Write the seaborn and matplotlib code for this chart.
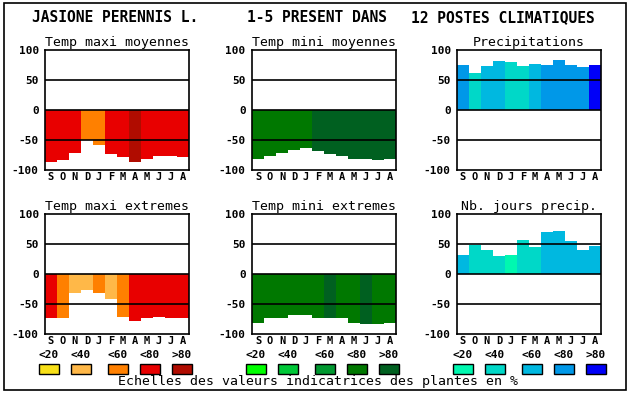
import matplotlib
matplotlib.use("Agg")
import matplotlib.pyplot as plt
import seaborn as sns
import pandas as pd
from matplotlib.patches import Rectangle

W, H = 630, 394

months = list("SONDJFMAMJJA")
band_labels = ["<20", "<40", "<60", "<80", ">80"]

reds = ["#f8e018", "#ffb848", "#ff8000", "#e80000", "#b00c00"]
greens = ["#00ff00", "#00c838", "#009830", "#007800", "#006020"]
blues = ["#00f8b0", "#00d8c8", "#00b8e0", "#0098e8", "#0000f8"]

# percentages (temperatures drawn downwards)
maxi_moy = [86, 83, 71, 50, 58, 73, 78, 86, 81, 77, 77, 78]
maxi_moy_cls = [3, 3, 3, 2, 2, 3, 3, 4, 3, 3, 3, 3]
mini_moy = [81, 77, 71, 66, 64, 68, 73, 77, 81, 81, 83, 81]
mini_moy_cls = [3, 3, 3, 3, 3, 4, 4, 4, 4, 4, 4, 4]
precip = [75, 62, 73, 82, 80, 73, 77, 75, 83, 75, 72, 75]
precip_cls = [3, 1, 2, 2, 1, 1, 2, 3, 3, 3, 3, 4]
maxi_ext = [74, 74, 32, 26, 32, 42, 71, 78, 74, 72, 74, 73]
maxi_ext_cls = [3, 2, 1, 1, 2, 1, 2, 3, 3, 3, 3, 3]
mini_ext = [81, 74, 74, 68, 68, 74, 73, 74, 81, 83, 83, 81]
mini_ext_cls = [3, 3, 3, 3, 3, 3, 4, 3, 3, 4, 3, 3]
jours = [32, 49, 40, 30, 32, 57, 45, 70, 72, 55, 40, 47]
jours_cls = [2, 1, 1, 1, 0, 1, 1, 2, 2, 2, 2, 2]

panels = [
    ("Temp maxi moyennes", maxi_moy, maxi_moy_cls, reds, -1, 0, 0),
    ("Temp mini moyennes", mini_moy, mini_moy_cls, greens, -1, 0, 1),
    ("Precipitations", precip, precip_cls, blues, 1, 0, 2),
    ("Temp maxi extremes", maxi_ext, maxi_ext_cls, reds, -1, 1, 0),
    ("Temp mini extremes", mini_ext, mini_ext_cls, greens, -1, 1, 1),
    ("Nb. jours precip.", jours, jours_cls, blues, 1, 1, 2),
]

sns.set_theme(style="white")
plt.rcParams["font.family"] = ["DejaVu Sans Mono", "DejaVu Sans"]

fig = plt.figure(figsize=(W / 100, H / 100), dpi=100)
fig.patch.set_facecolor("white")

col_x = [45, 252, 457]
row_y = [50, 214]
aw, ah = 144, 120


def px_axes(x, y, w, h):
    return fig.add_axes([x / W, 1 - (y + h) / H, w / W, h / H])


for title, vals, cls, pal, sign, r, c in panels:
    ax = px_axes(col_x[c], row_y[r], aw, ah)
    df = pd.DataFrame({"pos": range(12), "val": [sign * v for v in vals]})
    sns.barplot(data=df, x="pos", y="val", hue="pos",
                palette=[pal[k] for k in cls], legend=False,
                width=1, saturation=1, linewidth=0, ax=ax)
    for yl in (50, 0, -50):
        ax.axhline(yl, color="black", lw=1.2, zorder=3)
    ax.set_xlim(-0.5, 11.5)
    ax.set_ylim(-100, 100)
    ax.set_yticks([100, 50, 0, -50, -100])
    ax.set_yticklabels(["100", "50", "0", "-50", "-100"],
                       fontsize=8, fontweight="bold")
    ax.set_xticks(range(12))
    ax.set_xticklabels(months, fontsize=7.5, fontweight="bold")
    ax.tick_params(axis="y", length=0, pad=4.5, colors="black")
    ax.tick_params(axis="x", length=0, pad=1.5, colors="black")
    ax.set_xlabel("")
    ax.set_ylabel("")
    ax.set_facecolor("white")
    for s in ax.spines.values():
        s.set_color("black")
        s.set_linewidth(1.2)
        s.set_visible(True)
    ax.set_title(title, fontsize=9.5, color="black", pad=3)

# main title
for txt, x in [("JASIONE PERENNIS L.", 32), ("1-5 PRESENT DANS", 247),
               ("12 POSTES CLIMATIQUES", 411)]:
    fig.text(x / W, 1 - 18 / H, txt, fontsize=10.5, fontweight="bold",
             ha="left", va="center", color="black")

# legend of indicator scales
leg = fig.add_axes([0, 0, 1, 1], facecolor="none")
leg.set_xlim(0, W)
leg.set_ylim(H, 0)
leg.axis("off")
group_x = [39, 246, 453]
step = [0, 32, 69, 101, 133]
for gx, pal in zip(group_x, [reds, greens, blues]):
    for k, (lab, colr) in enumerate(zip(band_labels, pal)):
        x0 = gx + step[k]
        leg.add_patch(Rectangle((x0, 364), 20, 10, facecolor=colr,
                                edgecolor="black", lw=1))
        leg.text(x0 + 10, 355, lab, fontsize=8, fontweight="bold",
                 ha="center", va="center", color="black")
leg.text(W / 2 + 3, 382, "Echelles des valeurs indicatrices des plantes en %",
         fontsize=9.5, ha="center", va="center", color="black")
leg.add_patch(Rectangle((4, 3), 622, 387, facecolor="none",
                        edgecolor="black", lw=1.2))

fig.savefig("out.png", dpi=100)
